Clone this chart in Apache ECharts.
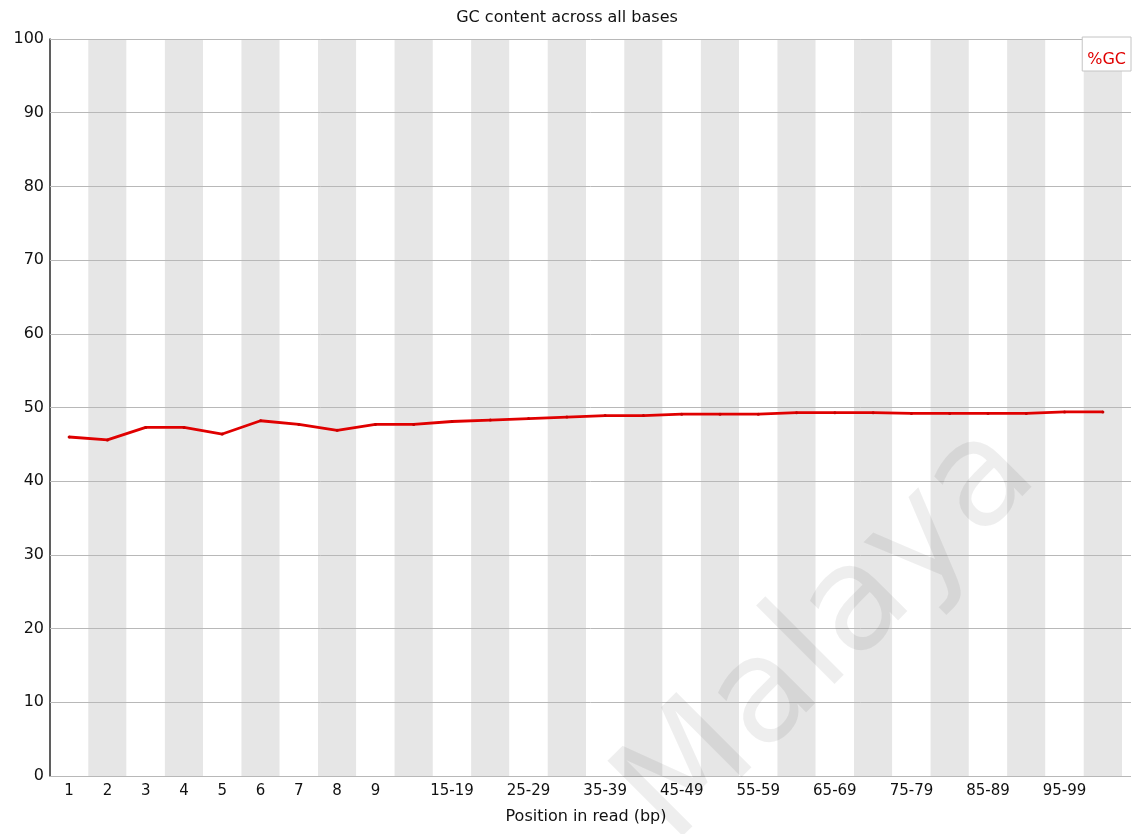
<!DOCTYPE html>
<html>
<head>
<meta charset="utf-8">
<title>GC content across all bases</title>
<script src="https://cdn.jsdelivr.net/npm/echarts@6/dist/echarts.min.js"></script>
<style>
  html, body { margin: 0; padding: 0; background: #ffffff; }
  #chart { width: 1134px; height: 834px; }
</style>
</head>
<body>
<div id="chart"></div>
<script>
// Read positions (single bases, then 5-bp bins)
const positions = [
  '1', '2', '3', '4', '5', '6', '7', '8', '9',
  '10-14', '15-19', '20-24', '25-29', '30-34', '35-39', '40-44', '45-49',
  '50-54', '55-59', '60-64', '65-69', '70-74', '75-79', '80-84', '85-89',
  '90-94', '95-99', '100-101'
];

// Mean %GC at each position
const gcPercent = [
  46.0, 45.6, 47.3, 47.3, 46.4, 48.2, 47.7, 46.9, 47.7,
  47.7, 48.1, 48.3, 48.5, 48.7, 48.9, 48.9, 49.1,
  49.1, 49.1, 49.3, 49.3, 49.3, 49.2, 49.2, 49.2,
  49.2, 49.4, 49.4
];

const yTicks = { min: 0, max: 100, step: 10 };

const FONT = 'DejaVu Sans';
const chart = echarts.init(document.getElementById('chart'), null, { renderer: 'canvas' });

chart.setOption({
  animation: false,
  backgroundColor: '#ffffff',
  textStyle: { fontFamily: FONT },
  title: {
    text: 'GC content across all bases',
    left: 'center',
    top: 5,
    textStyle: { fontFamily: FONT, fontSize: 16, fontWeight: 'normal', color: '#111111' }
  },
  legend: {
    data: ['%GC'],
    right: 3,
    top: 37,
    icon: 'none',
    itemWidth: 0,
    itemHeight: 0,
    itemGap: 0,
    padding: [15, 5, 3, 0],
    backgroundColor: '#ffffff',
    borderColor: '#c4c4c4',
    borderWidth: 1,
    borderRadius: 0,
    textStyle: { fontFamily: FONT, fontSize: 16, color: '#e00000' }
  },
  grid: [
    { left: 50, right: 12, top: 39, bottom: 58, containLabel: false },
    { left: 50, right: 3, top: 39, bottom: 58, containLabel: false }
  ],
  xAxis: [
    {
      type: 'category',
      gridIndex: 0,
      data: positions,
      boundaryGap: true,
      name: 'Position in read (bp)',
      nameLocation: 'middle',
      nameGap: 33,
      nameTextStyle: { fontFamily: FONT, fontSize: 16, color: '#111111' },
      axisLine: { show: true, lineStyle: { color: '#b8b8b8', width: 1 } },
      axisTick: { show: false },
      axisLabel: {
        interval: function (i) { return i < 9 || i % 2 === 0; },
        margin: 8,
        fontFamily: FONT,
        fontSize: 15,
        color: '#111111'
      },
      splitLine: { show: false },
      splitArea: {
        show: true,
        interval: 0,
        areaStyle: { color: ['#ffffff', '#e6e6e6'] }
      }
    },
    {
      type: 'category',
      gridIndex: 1,
      data: positions,
      show: false
    }
  ],
  yAxis: [
    {
      type: 'value',
      gridIndex: 0,
      min: yTicks.min,
      max: yTicks.max,
      interval: yTicks.step,
      axisLine: { show: true, lineStyle: { color: '#2a2a2a', width: 1.5 } },
      axisTick: { show: false },
      axisLabel: { margin: 6, fontFamily: FONT, fontSize: 16, color: '#111111' },
      splitLine: { show: false }
    },
    {
      // horizontal guide lines, running slightly past the banded area
      type: 'value',
      gridIndex: 1,
      min: yTicks.min,
      max: yTicks.max,
      interval: yTicks.step,
      z: 1,
      axisLine: { show: false },
      axisTick: { show: false },
      axisLabel: { show: false },
      splitLine: { show: true, lineStyle: { color: '#b8b8b8', width: 1 } }
    }
  ],
  series: [
    {
      name: '%GC',
      type: 'line',
      xAxisIndex: 0,
      yAxisIndex: 0,
      data: gcPercent,
      z: 5,
      symbol: 'circle',
      symbolSize: 3,
      showSymbol: true,
      color: '#e00000',
      itemStyle: { color: '#c80000' },
      lineStyle: { color: '#e00000', width: 2.8 },
      emphasis: { disabled: true }
    }
  ],
  graphic: [
    {
      // faint diagonal watermark
      type: 'text',
      x: 830,
      y: 635,
      rotation: 45 * Math.PI / 180,
      silent: true,
      z: 10,
      style: {
        text: 'Malaya',
        font: '146px "DejaVu Sans"',
        fill: 'rgba(0,0,0,0.065)',
        align: 'center',
        verticalAlign: 'middle'
      }
    }
  ]
});
</script>
</body>
</html>
